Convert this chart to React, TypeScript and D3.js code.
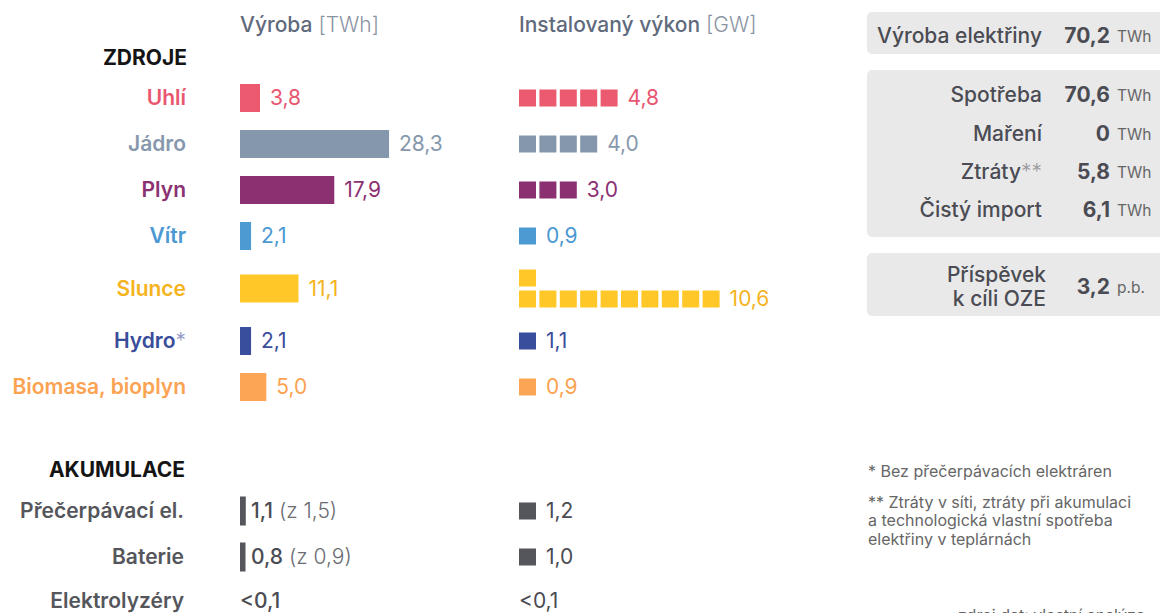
import React from "react";
import * as d3 from "d3";

const sources = ["Uhlí", "Jádro", "Plyn", "Vítr", "Slunce", "Hydro", "Biomasa, bioplyn"];
const sourceNotes = ["", "", "", "", "", "*", ""];
const production = [3.8, 28.3, 17.9, 2.1, 11.1, 2.1, 5.0];
const capacity = [4.8, 4.0, 3.0, 0.9, 10.6, 1.1, 0.9];
const barColors = ["#ec5a70", "#8497ac", "#8b3172", "#4d9ad3", "#ffc727", "#394f9d", "#fca655"];
const textColors = ["#e8566f", "#8798ad", "#8b3172", "#4b98d2", "#f5b31d", "#394d9b", "#fba352"];

const storage = ["Přečerpávací el.", "Baterie", "Elektrolyzéry"];
const storageProd = [1.1, 0.8, null];
const storageOf = [1.5, 0.9, null];
const storageCap = [1.2, 1.0, null];
const storageSmall = ["<0,1", "<0,1", "<0,1"];

const summaryLabels = ["Spotřeba", "Maření", "Ztráty", "Čistý import"];
const summaryNotes = ["", "", "**", ""];
const summaryValues = ["70,6", "0", "5,8", "6,1"];
const totalProduction = "70,2";
const ozeContribution = "3,2";

const footnotes = [
  ["* Bez přečerpávacích elektráren"],
  ["** Ztráty v síti, ztráty při akumulaci", "a technologická vlastní spotřeba", "elektřiny v teplárnách"],
];

const fmt = (v: number) => d3.format(".1f")(v).replace(".", ",");
const FONT = "Inter, 'Noto Sans', sans-serif";
const FS = 21;

export default function App() {
  const W = 1160, H = 613;
  const barX0 = 240;
  const sqX0 = 519;
  const labelX = 186;
  const x = d3.scaleLinear().domain([0, 30]).range([0, 158]);
  const SQ = 17, PITCH_X = 20.4, PITCH_Y = 21, PER_ROW = 10;
  const barH = 28;

  const counts = capacity.map((c) => Math.round(c));
  const nRows = counts.map((n) => Math.max(1, Math.ceil(n / PER_ROW)));
  const half = nRows.map((r) => 23 + (r - 1) * 6.5);
  const centers: number[] = [];
  nRows.forEach((_, i) => {
    centers.push(i === 0 ? 98 : centers[i - 1] + half[i - 1] + half[i]);
  });
  const accY = [511, 557, 601];

  const squares = (n: number, cy: number, color: string, key: string) => {
    const rows = Math.max(1, Math.ceil(n / PER_ROW));
    const gh = SQ + (rows - 1) * PITCH_Y;
    const top = cy - gh / 2;
    return d3.range(n).map((i) => {
      const col = i % PER_ROW;
      const r = Math.floor(i / PER_ROW);
      return (
        <rect key={key + i} x={sqX0 + col * PITCH_X} y={top + (rows - 1 - r) * PITCH_Y} width={SQ} height={SQ} fill={color} />
      );
    });
  };
  const sqLabelInfo = (n: number, cy: number) => {
    const rows = Math.max(1, Math.ceil(n / PER_ROW));
    const gh = SQ + (rows - 1) * PITCH_Y;
    const top = cy - gh / 2;
    const cols = Math.min(n, PER_ROW);
    return { lx: sqX0 + (cols - 1) * PITCH_X + SQ + 10, ly: top + (rows - 1) * PITCH_Y + SQ / 2 };
  };

  const dark = "#4b4c53";
  return (
    <svg width={W} height={H} style={{ position: "absolute", left: 0, top: 0, fontFamily: FONT }}>
      <text x={barX0} y={25} dy="0.35em" fontSize={FS} fill="#5f6a7c">
        <tspan fontWeight={500}>Výroba</tspan>
        <tspan fontWeight={300} fill="#8a93a2"> [TWh]</tspan>
      </text>
      <text x={sqX0} y={25} dy="0.35em" fontSize={FS} fill="#5f6a7c">
        <tspan fontWeight={500}>Instalovaný výkon</tspan>
        <tspan fontWeight={300} fill="#8a93a2"> [GW]</tspan>
      </text>
      <text x={labelX + 1} y={58} dy="0.35em" textAnchor="end" fontSize={FS} fontWeight={700} fill="#141414">ZDROJE</text>

      {sources.map((s, i) => {
        const cy = centers[i];
        const w = x(production[i]);
        const n = counts[i];
        const { lx, ly } = sqLabelInfo(n, cy);
        return (
          <g key={s}>
            <text x={labelX} y={cy} dy="0.35em" textAnchor="end" fontSize={FS} fontWeight={600} fill={textColors[i]}>
              {s}
              {sourceNotes[i] && <tspan fontWeight={300} fill="#8b95c5">{sourceNotes[i]}</tspan>}
            </text>
            <rect x={barX0} y={cy - barH / 2} width={w} height={barH} fill={barColors[i]} />
            <text x={barX0 + w + 10} y={cy} dy="0.35em" fontSize={FS} fontWeight={400} fill={textColors[i]}>{fmt(production[i])}</text>
            {squares(n, cy, barColors[i], s)}
            <text x={lx} y={ly} dy="0.35em" fontSize={FS} fontWeight={400} fill={textColors[i]}>{fmt(capacity[i])}</text>
          </g>
        );
      })}

      <text x={labelX - 1} y={470} dy="0.35em" textAnchor="end" fontSize={FS} fontWeight={700} fill="#141414">AKUMULACE</text>
      {storage.map((s, i) => {
        const cy = accY[i];
        const p = storageProd[i];
        const c = storageCap[i];
        return (
          <g key={s}>
            <text x={labelX - 2} y={cy} dy="0.35em" textAnchor="end" fontSize={FS} fontWeight={600} fill="#55565c">{s}</text>
            {p !== null ? (
              <>
                <rect x={barX0} y={cy - 14.5} width={Math.max(x(p), 5.5)} height={29} fill="#55565c" />
                <text x={barX0 + 11} y={cy} dy="0.35em" fontSize={FS} fill="#4b4c53">
                  <tspan fontWeight={500}>{fmt(p)}</tspan>
                  <tspan fontWeight={300} fill="#6b6c72"> (z {fmt(storageOf[i] as number)})</tspan>
                </text>
              </>
            ) : (
              <text x={barX0} y={cy} dy="0.35em" fontSize={FS} fontWeight={500} fill="#4b4c53">{storageSmall[i]}</text>
            )}
            {c !== null ? (
              <>
                {squares(Math.round(c), cy, "#55565c", s + "sq")}
                <text x={sqX0 + SQ + 10} y={cy} dy="0.35em" fontSize={FS} fontWeight={400} fill="#4b4c53">{fmt(c)}</text>
              </>
            ) : (
              <text x={sqX0} y={cy} dy="0.35em" fontSize={FS} fontWeight={400} fill="#4b4c53">{storageSmall[i]}</text>
            )}
          </g>
        );
      })}

      <rect x={867} y={12} width={310} height={42} rx={5} fill="#e9e9e9" />
      <text x={1042} y={36} dy="0.35em" textAnchor="end" fontSize={FS} fontWeight={500} fill={dark}>Výroba elektřiny</text>
      <text x={1110} y={36} dy="0.35em" textAnchor="end" fontSize={FS} fontWeight={700} fill={dark}>{totalProduction}</text>
      <text x={1117} y={37} dy="0.35em" fontSize={15.5} fontWeight={400} fill="#666">TWh</text>

      <rect x={867} y={70} width={310} height={167} rx={5} fill="#e9e9e9" />
      {summaryLabels.map((s, i) => {
        const cy = 95 + i * 38.3;
        return (
          <g key={s}>
            <text x={1042} y={cy} dy="0.35em" textAnchor="end" fontSize={FS} fontWeight={500} fill={dark}>
              {s}
              {summaryNotes[i] && <tspan fontWeight={300} fill="#9a9a9f">{summaryNotes[i]}</tspan>}
            </text>
            <text x={1110} y={cy} dy="0.35em" textAnchor="end" fontSize={FS} fontWeight={700} fill={dark}>{summaryValues[i]}</text>
            <text x={1117} y={cy + 1} dy="0.35em" fontSize={15.5} fontWeight={400} fill="#666">TWh</text>
          </g>
        );
      })}

      <rect x={867} y={253} width={310} height={63} rx={5} fill="#e9e9e9" />
      <text x={1046} y={275} dy="0.35em" textAnchor="end" fontSize={FS} fontWeight={500} fill={dark}>Příspěvek</text>
      <text x={1046} y={299} dy="0.35em" textAnchor="end" fontSize={FS} fontWeight={500} fill={dark}>k cíli OZE</text>
      <text x={1110} y={287} dy="0.35em" textAnchor="end" fontSize={FS} fontWeight={700} fill={dark}>{ozeContribution}</text>
      <text x={1117} y={288} dy="0.35em" fontSize={15.5} fontWeight={400} fill="#666">p.b.</text>

      {footnotes[0].map((t, i) => (
        <text key={t} x={868} y={471 + i * 18.5} dy="0.35em" fontSize={16} fill="#666">{t}</text>
      ))}
      {footnotes[1].map((t, i) => (
        <text key={t} x={868} y={502 + i * 18.5} dy="0.35em" fontSize={16} fill="#666">{t}</text>
      ))}
      <text x={958} y={621} fontSize={16} fill="#666">zdroj dat: vlastní analýza</text>
    </svg>
  );
}
